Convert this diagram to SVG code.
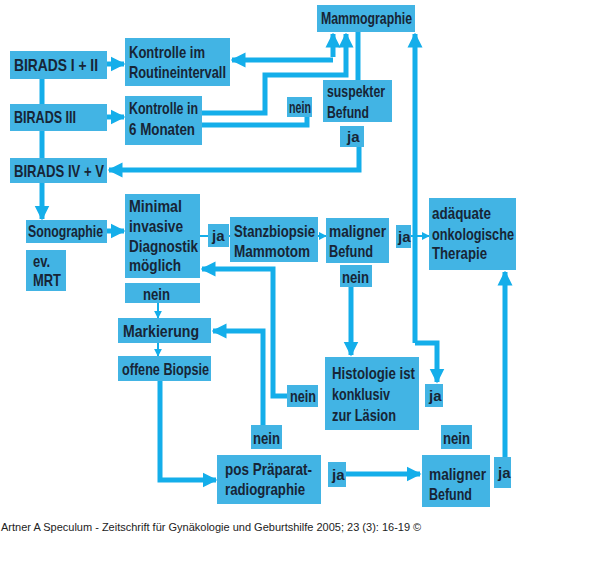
<svg xmlns="http://www.w3.org/2000/svg" width="600" height="573" viewBox="0 0 600 573">
<style>
.b{fill:#42b4e4}
.t{font-family:"Liberation Sans",Arial,sans-serif;font-weight:bold;font-size:17px;fill:#172536}
.j{font-family:"Liberation Sans",Arial,sans-serif;font-weight:bold;font-size:15px;fill:#172536}
.k{fill:none;stroke:#14aeea;stroke-width:5}
.n{fill:none;stroke:#14aeea;stroke-width:2}
.cap{font-family:"Liberation Sans",Arial,sans-serif;font-size:11px;fill:#222}
</style>
<defs>
<marker id="a" viewBox="0 0 10 10" refX="9" refY="5" markerWidth="3" markerHeight="3.4" orient="auto" markerUnits="strokeWidth"><path d="M0,0L10,5L0,10z" fill="#14aeea"/></marker>
<marker id="s" viewBox="0 0 10 10" refX="9" refY="5" markerWidth="4" markerHeight="4" orient="auto" markerUnits="strokeWidth"><path d="M0,0L10,5L0,10z" fill="#14aeea"/></marker>
</defs>
<rect width="600" height="573" fill="#fff"/>
<g id="connectors">
<path class="k" d="M42,79V104M42,131V158"/>
<path class="k" d="M42,183V219" marker-end="url(#a)"/>
<path class="k" d="M107,64H124" marker-end="url(#a)"/>
<path class="k" d="M107,117H124" marker-end="url(#a)"/>
<path class="k" d="M333,57V34" marker-end="url(#a)"/>
<path class="k" d="M333,60H232" marker-end="url(#a)"/>
<path class="k" d="M202,113H265V75H346V34" marker-end="url(#a)"/>
<path class="k" d="M202,125H307V117"/>
<path class="k" d="M358,32V80"/>
<path class="k" d="M359,147V170H109" marker-end="url(#a)"/>
<path class="k" d="M415,343V34" marker-end="url(#a)"/>
<path class="k" d="M415,343H437V382" marker-end="url(#a)"/>
<path class="k" d="M107,231H124" marker-end="url(#a)"/>
<path class="n" d="M200,236H208M229,236H230"/>
<path class="n" d="M318,236H326" marker-end="url(#s)"/>
<path class="n" d="M411,236H429" marker-end="url(#s)"/>
<path class="n" d="M158,303V318" marker-end="url(#s)"/>
<path class="n" d="M158,343V356" marker-end="url(#s)"/>
<path class="k" d="M351,287V355" marker-end="url(#a)"/>
<path class="k" d="M287,396H273V269H202" marker-end="url(#a)"/>
<path class="k" d="M263,425V331H213" marker-end="url(#a)"/>
<path class="k" d="M160,381V480H216" marker-end="url(#a)"/>
<path class="k" d="M346,474H420" marker-end="url(#a)"/>
<path class="k" d="M505,457V272" marker-end="url(#a)"/>
</g>
<g id="mammographie"><rect class="b" x="317" y="5" width="98" height="27"/><text class="t" x="321" y="24" textLength="91" lengthAdjust="spacingAndGlyphs">Mammographie</text></g>
<g id="birads12"><rect class="b" x="10" y="51" width="97" height="28"/><text class="t" x="14" y="71" textLength="84" lengthAdjust="spacingAndGlyphs">BIRADS I + II</text></g>
<g id="kontrolle-routine"><rect class="b" x="125" y="38" width="105" height="48"/><text class="t" x="129" y="58" textLength="76" lengthAdjust="spacingAndGlyphs">Kontrolle im</text><text class="t" x="129" y="78" textLength="97" lengthAdjust="spacingAndGlyphs">Routineintervall</text></g>
<g id="birads3"><rect class="b" x="10" y="104" width="97" height="27"/><text class="t" x="14" y="123" textLength="62" lengthAdjust="spacingAndGlyphs">BIRADS III</text></g>
<g id="kontrolle-6"><rect class="b" x="125" y="96" width="77" height="49"/><text class="t" x="129" y="114" textLength="69" lengthAdjust="spacingAndGlyphs">Kontrolle in</text><text class="t" x="129" y="135" textLength="66" lengthAdjust="spacingAndGlyphs">6 Monaten</text></g>
<g id="nein1"><rect class="b" x="287" y="97" width="25" height="20"/><text class="t" x="289" y="113" textLength="22" lengthAdjust="spacingAndGlyphs">nein</text></g>
<g id="suspekt"><rect class="b" x="323" y="80" width="69" height="42"/><text class="t" x="327" y="97" textLength="58" lengthAdjust="spacingAndGlyphs">suspekter</text><text class="t" x="327" y="118" textLength="42" lengthAdjust="spacingAndGlyphs">Befund</text></g>
<g id="ja1"><rect class="b" x="340" y="126" width="24" height="21"/><text class="j" x="347" y="142">ja</text></g>
<g id="birads45"><rect class="b" x="10" y="158" width="97" height="25"/><text class="t" x="14" y="177" textLength="90" lengthAdjust="spacingAndGlyphs">BIRADS IV + V</text></g>
<g id="sono"><rect class="b" x="26" y="220" width="81" height="23"/><text class="t" x="28" y="237" textLength="75" lengthAdjust="spacingAndGlyphs">Sonographie</text></g>
<g id="mrt"><rect class="b" x="26" y="250" width="40" height="41"/><text class="t" x="33" y="267" textLength="17" lengthAdjust="spacingAndGlyphs">ev.</text><text class="t" x="33" y="286" textLength="28" lengthAdjust="spacingAndGlyphs">MRT</text></g>
<g id="minimal"><rect class="b" x="125" y="194" width="75" height="84"/><text class="t" x="129" y="212" textLength="53" lengthAdjust="spacingAndGlyphs">Minimal</text><text class="t" x="129" y="232" textLength="54" lengthAdjust="spacingAndGlyphs">invasive</text><text class="t" x="129" y="252" textLength="69" lengthAdjust="spacingAndGlyphs">Diagnostik</text><text class="t" x="129" y="271" textLength="52" lengthAdjust="spacingAndGlyphs">möglich</text></g>
<g id="ja2"><rect class="b" x="208" y="224" width="21" height="23"/><text class="j" x="212" y="241">ja</text></g>
<g id="stanz"><rect class="b" x="230" y="217" width="88" height="45"/><text class="t" x="234" y="237" textLength="81" lengthAdjust="spacingAndGlyphs">Stanzbiopsie</text><text class="t" x="234" y="257" textLength="76" lengthAdjust="spacingAndGlyphs">Mammotom</text></g>
<g id="maligner1"><rect class="b" x="326" y="218" width="63" height="45"/><text class="t" x="329" y="237" textLength="57" lengthAdjust="spacingAndGlyphs">maligner</text><text class="t" x="329" y="257" textLength="44" lengthAdjust="spacingAndGlyphs">Befund</text></g>
<g id="ja3"><rect class="b" x="396" y="225" width="15" height="23"/><text class="j" x="398" y="242">ja</text></g>
<g id="therapie"><rect class="b" x="429" y="198" width="87" height="72"/><text class="t" x="432" y="219" textLength="59" lengthAdjust="spacingAndGlyphs">adäquate</text><text class="t" x="432" y="240" textLength="82" lengthAdjust="spacingAndGlyphs">onkologische</text><text class="t" x="432" y="259" textLength="55" lengthAdjust="spacingAndGlyphs">Therapie</text></g>
<g id="nein2"><rect class="b" x="125" y="283" width="75" height="20"/><text class="t" x="143" y="300" textLength="27" lengthAdjust="spacingAndGlyphs">nein</text></g>
<g id="markierung"><rect class="b" x="118" y="318" width="93" height="25"/><text class="t" x="123" y="337" textLength="76" lengthAdjust="spacingAndGlyphs">Markierung</text></g>
<g id="offene"><rect class="b" x="118" y="356" width="93" height="25"/><text class="t" x="122" y="375" textLength="87" lengthAdjust="spacingAndGlyphs">offene Biopsie</text></g>
<g id="nein3"><rect class="b" x="340" y="265" width="32" height="22"/><text class="t" x="342" y="283" textLength="27" lengthAdjust="spacingAndGlyphs">nein</text></g>
<g id="histologie"><rect class="b" x="325" y="357" width="94" height="73"/><text class="t" x="332" y="379" textLength="83" lengthAdjust="spacingAndGlyphs">Histologie ist</text><text class="t" x="332" y="400" textLength="58" lengthAdjust="spacingAndGlyphs">konklusiv</text><text class="t" x="332" y="421" textLength="64" lengthAdjust="spacingAndGlyphs">zur Läsion</text></g>
<g id="ja4"><rect class="b" x="425" y="384" width="18" height="23"/><text class="j" x="429" y="401">ja</text></g>
<g id="nein4"><rect class="b" x="287" y="385" width="31" height="22"/><text class="t" x="290" y="402" textLength="26" lengthAdjust="spacingAndGlyphs">nein</text></g>
<g id="nein5"><rect class="b" x="251" y="425" width="31" height="24"/><text class="t" x="253" y="444" textLength="27" lengthAdjust="spacingAndGlyphs">nein</text></g>
<g id="praeparat"><rect class="b" x="217" y="455" width="104" height="49"/><text class="t" x="225" y="475" textLength="87" lengthAdjust="spacingAndGlyphs">pos Präparat-</text><text class="t" x="225" y="495" textLength="80" lengthAdjust="spacingAndGlyphs">radiographie</text></g>
<g id="ja5"><rect class="b" x="328" y="462" width="18" height="25"/><text class="j" x="332" y="480">ja</text></g>
<g id="nein6"><rect class="b" x="441" y="425" width="31" height="24"/><text class="t" x="443" y="444" textLength="27" lengthAdjust="spacingAndGlyphs">nein</text></g>
<g id="maligner2"><rect class="b" x="422" y="455" width="68" height="52"/><text class="t" x="429" y="480" textLength="57" lengthAdjust="spacingAndGlyphs">maligner</text><text class="t" x="429" y="500" textLength="43" lengthAdjust="spacingAndGlyphs">Befund</text></g>
<g id="ja6"><rect class="b" x="494" y="457" width="17" height="31"/><text class="j" x="498" y="478">ja</text></g>
<text class="cap" x="1" y="531">Artner A Speculum - Zeitschrift für Gynäkologie und Geburtshilfe 2005; 23 (3): 16-19 ©</text>
</svg>
